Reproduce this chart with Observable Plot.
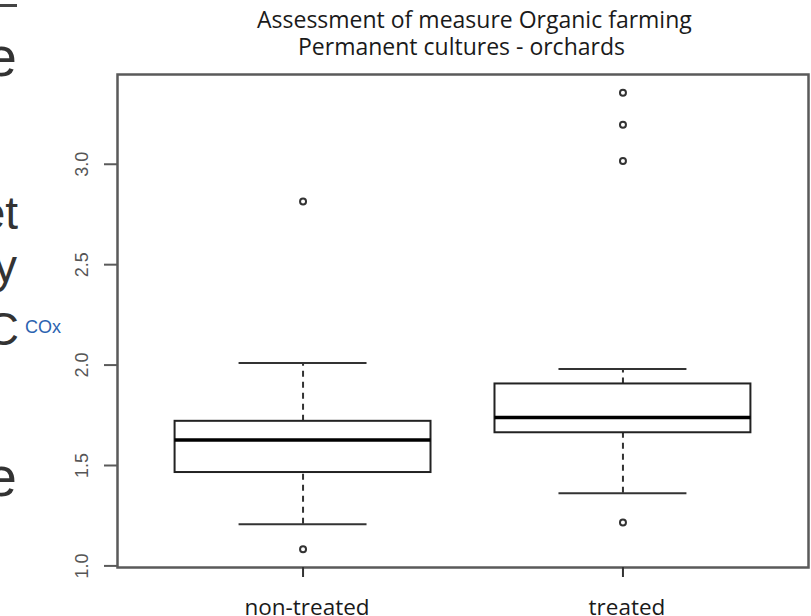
<!DOCTYPE html>
<html><head><meta charset="utf-8">
<script src="https://cdn.jsdelivr.net/npm/d3@7"></script>
<script src="https://cdn.jsdelivr.net/npm/@observablehq/plot@0.6"></script>
<style>
html,body{margin:0;padding:0;background:#fff;}
#wrap{position:relative;width:811px;height:616px;overflow:hidden;background:#fff;}
#wrap svg{position:absolute;left:0;top:0;}
.frag{position:absolute;left:-300px;font-family:"Liberation Sans",Arial,sans-serif;color:#333;line-height:1;white-space:nowrap;text-align:right;}
.title{position:absolute;font-family:"Open Sans",sans-serif;font-size:23px;color:#1a1a1a;line-height:1;white-space:nowrap;}
.cox{position:absolute;left:25px;top:318px;font-family:"Liberation Sans",Arial,sans-serif;font-size:18px;line-height:1;color:#2b63b0;}
.bar{position:absolute;left:0;top:4px;width:17px;height:3px;background:#444;}
</style></head><body>
<div id="wrap"></div>
<script>
const groups = ["non-treated", "treated"];
const lowerWhisker = [1.208, 1.362];
const q1 = [1.465, 1.663];
const median = [1.627, 1.739];
const q3 = [1.720, 1.906];
const upperWhisker = [2.010, 1.980];
const outlierGroups = ["non-treated", "non-treated", "treated", "treated", "treated", "treated"];
const outlierValues = [2.815, 1.083, 3.356, 3.197, 3.016, 1.216];
const yTicks = [1.0, 1.5, 2.0, 2.5, 3.0];
const titleLines = ["Assessment of measure Organic farming", "Permanent cultures - orchards"];
const yLabel = "COx";

const boxes = groups.map((g, i) => ({group: g, pos: i + 1, lo: lowerWhisker[i], q1: q1[i], med: median[i], q3: q3[i], hi: upperWhisker[i]}));
const outliers = outlierValues.map((v, i) => ({pos: groups.indexOf(outlierGroups[i]) + 1, value: v}));
const allVals = [...lowerWhisker, ...upperWhisker, ...outlierValues];
const vmin = d3.min(allVals), vmax = d3.max(allVals), vpad = (vmax - vmin) * 0.04;
const n = groups.length;
const half = 0.4, capHalf = 0.2;

const plot = Plot.plot({
  width: 811, height: 616,
  marginLeft: 117, marginRight: 3, marginTop: 74, marginBottom: 49,
  x: {domain: [0.5 - 0.04 * n, n + 0.5 + 0.04 * n]},
  y: {domain: [vmin - vpad, vmax + vpad]},
  marks: [
    Plot.ruleX(boxes, {x: "pos", y1: "q3", y2: "hi", stroke: "#333", strokeWidth: 2, strokeDasharray: "6,5"}),
    Plot.ruleX(boxes, {x: "pos", y1: "lo", y2: "q1", stroke: "#333", strokeWidth: 2, strokeDasharray: "6,5"}),
    Plot.ruleY(boxes, {x1: d => d.pos - capHalf, x2: d => d.pos + capHalf, y: "hi", stroke: "#333", strokeWidth: 2}),
    Plot.ruleY(boxes, {x1: d => d.pos - capHalf, x2: d => d.pos + capHalf, y: "lo", stroke: "#333", strokeWidth: 2}),
    Plot.rect(boxes, {x1: d => d.pos - half, x2: d => d.pos + half, y1: "q1", y2: "q3", fill: "white", stroke: "#222", strokeWidth: 2}),
    Plot.ruleY(boxes, {x1: d => d.pos - half, x2: d => d.pos + half, y: "med", stroke: "#000", strokeWidth: 3.5}),
    Plot.dot(outliers, {x: "pos", y: "value", r: 3, stroke: "#333", strokeWidth: 2, fill: "none"}),
    Plot.frame({stroke: "#5a5a5a", strokeWidth: 2.5}),
    Plot.axisY({ticks: yTicks, tickSize: 13, tickFormat: () => "", stroke: "#5a5a5a", strokeWidth: 2, label: null}),
    Plot.text(yTicks, {y: d => d, frameAnchor: "left", dx: -35.5, rotate: -90, text: d => d.toFixed(1), fontSize: 18, fontFamily: "Liberation Sans", fill: "#555", textAnchor: "middle", lineAnchor: "middle"}),
    Plot.axisX({ticks: boxes.map(d => d.pos), tickFormat: () => "", tickSize: 10, stroke: "#333", strokeWidth: 2, label: null}),
    Plot.text(boxes, {x: "pos", text: "group", frameAnchor: "bottom", dx: 4, dy: 32, lineAnchor: "top", fontSize: 22.5, fontFamily: "Open Sans", fill: "#1a1a1a"})
  ]
});

const wrap = document.getElementById("wrap");
wrap.appendChild(plot);

function addDiv(cls, text, style) {
  const d = document.createElement("div");
  d.className = cls;
  d.textContent = text;
  Object.assign(d.style, style);
  wrap.appendChild(d);
  return d;
}
addDiv("title", titleLines[0], {left: "257px", top: "7.6px"});
addDiv("title", titleLines[1], {left: "298px", top: "34.6px"});
addDiv("cox", yLabel, {});
// slide fragments behind the chart (cut at left edge)
const bar = document.createElement("div"); bar.className = "bar"; wrap.appendChild(bar);
addDiv("frag", "e", {width: "317px", top: "28.6px", fontSize: "56px"});
addDiv("frag", "et", {width: "318px", top: "190px", fontSize: "46px"});
addDiv("frag", "y", {width: "317px", top: "243px", fontSize: "46px"});
addDiv("frag", "C", {width: "319px", top: "306px", fontSize: "46px"});
addDiv("frag", "e", {width: "317px", top: "448.6px", fontSize: "56px"});
</script>
</body></html>
